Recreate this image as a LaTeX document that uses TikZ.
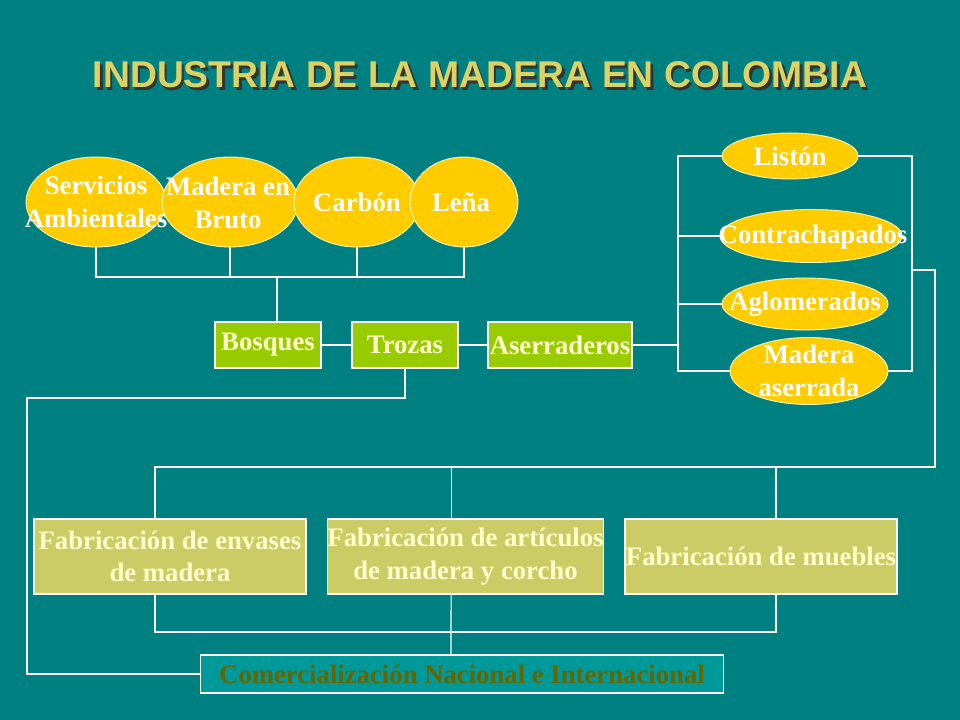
\documentclass[tikz,border=0pt]{standalone}
\usepackage{fontspec}
\setmainfont{Liberation Serif}
\newfontfamily\titlefont{Liberation Sans}
\usepackage{tikz}
\usetikzlibrary{shapes.geometric, positioning}
\definecolor{bgteal}{RGB}{0,128,128}
\definecolor{comteal}{RGB}{0,153,153}
\definecolor{mygold}{RGB}{255,204,0}
\definecolor{mygreen}{RGB}{153,204,0}
\definecolor{mykhaki}{RGB}{204,204,102}
\definecolor{mycream}{RGB}{255,255,204}
\definecolor{myolive}{RGB}{102,102,0}
\definecolor{mytitle}{RGB}{218,210,100}

\begin{document}
\begin{tikzpicture}[x=0.025cm,y=-0.025cm,
    every node/.style={font=\fontsize{19}{23}\selectfont\bfseries,align=center},
    link/.style={draw=white,line width=0.8pt},
    oval/.style={ellipse,draw=mycream,line width=0.6pt,fill=mygold,inner sep=0pt},
    ovaltext/.style={text=white,inner sep=0pt},
    greenbox/.style={draw=white,line width=0.8pt,fill=mygreen,text=mycream,minimum height=1.15cm,inner sep=0pt},
    fabbox/.style={draw=white,line width=0.8pt,fill=mykhaki,text=mycream,minimum width=6.8cm,minimum height=1.875cm,inner sep=0pt},
    titlestyle/.style={font=\titlefont\fontsize{26.5}{30}\selectfont\bfseries,inner sep=0pt}]
    \fill[bgteal] (0,0) rectangle (960,720);
    % title
    \node[titlestyle,text=black!80] (titlesh) at (482.5,77.5) {INDUSTRIA DE LA MADERA EN COLOMBIA};
    \node[titlestyle,text=mytitle] (title) at (480,75) {INDUSTRIA DE LA MADERA EN COLOMBIA};
    % products of the forest
    \node[oval,minimum width=3.5cm,minimum height=2.25cm] (serv) at (96,202) {};
    \node[oval,minimum width=3.4cm,minimum height=2.25cm] (madera) at (230,202) {};
    \node[oval,minimum width=3.15cm,minimum height=2.25cm] (carbon) at (357,202) {};
    \node[oval,minimum width=2.7cm,minimum height=2.25cm] (lena) at (464,202) {};
    \node[ovaltext] (servt) at (serv) {Servicios\\Ambientales};
    \node[ovaltext] (maderat) at (228,203) {Madera en\\Bruto};
    \node[ovaltext] (carbont) at (carbon) {Carbón};
    \node[ovaltext] (lenat) at (461,202) {Leña};
    % chain
    \node[greenbox,minimum width=2.65cm] (bosques) at (268,345) {Bosques};
    \node[greenbox,minimum width=2.65cm] (trozas) at (405,345) {Trozas};
    \node[greenbox,minimum width=3.6cm] (aserr) at (560,345) {Aserraderos};
    % products of the sawmill
    \node[oval,minimum width=3.4cm,minimum height=1.15cm] (liston) at (790,156) {};
    \node[oval,minimum width=4.55cm,minimum height=1.325cm] (contra) at (811,236) {};
    \node[oval,minimum width=4.15cm,minimum height=1.3cm] (aglom) at (805,304) {};
    \node[oval,minimum width=3.95cm,minimum height=1.675cm] (maser) at (809,371) {};
    \node[ovaltext] (listont) at (liston) {Listón};
    \node[ovaltext] (contrat) at (813,237) {Contrachapados};
    \node[ovaltext] (aglomt) at (aglom) {Aglomerados};
    \node[ovaltext] (masert) at (maser) {Madera\\aserrada};
    % manufacturing
    \node[fabbox] (envases) at (170,556.5) {Fabricación de envases\\de madera};
    \node[fabbox] (articulos) at (465.5,556.5) {Fabricación de artículos\\de madera y corcho};
    \node[fabbox] (muebles) at (761,556.5) {Fabricación de muebles};
    \node[draw=white,line width=0.8pt,fill=comteal,text=myolive,minimum width=13.05cm,minimum height=0.95cm,inner sep=0pt] (comer) at (462,674) {Comercialización Nacional e Internacional};
    % connectors
    \coordinate (topbar) at (277,277);
    \draw[link] (serv.south) |- (topbar) -| (lena.south);
    \foreach \o in {madera,carbon} {
        \draw[link] (\o.south) -- (\o.south |- topbar);
    }
    \draw[link] (topbar) -- (topbar |- bosques.north);
    \draw[link] (bosques) -- (trozas);
    \draw[link] (trozas) -- (aserr);
    \coordinate (lbar) at (678,345);
    \draw[link] (aserr) -- (lbar);
    \draw[link] (liston.west) -| (lbar) |- (maser.west);
    \foreach \o in {contra,aglom} {
        \draw[link] (\o.west) -- (\o.west -| lbar);
    }
    \coordinate (rbar) at (912,270);
    \draw[link] (liston.east) -| (rbar) |- (maser.east);
    \coordinate (hub) at (935,467);
    \draw[link] (rbar) -| (hub) -| ([xshift=-0.375cm]envases.north);
    \foreach \b/\s in {articulos/-0.36cm,muebles/0.375cm} {
        \draw[link] ([xshift=\s]\b.north) -- ([xshift=\s]\b.north |- hub);
    }
    \coordinate (lowbar) at (451,632);
    \draw[link] ([xshift=-0.375cm]envases.south) |- (lowbar) -| ([xshift=0.375cm]muebles.south);
    \draw[link] ([xshift=-0.36cm]articulos.south) -- (lowbar) -- (lowbar |- comer.north);
    \coordinate (leftbar) at (27,398);
    \draw[link] (trozas.south) |- (leftbar) |- (comer.west);
\end{tikzpicture}
\end{document}
